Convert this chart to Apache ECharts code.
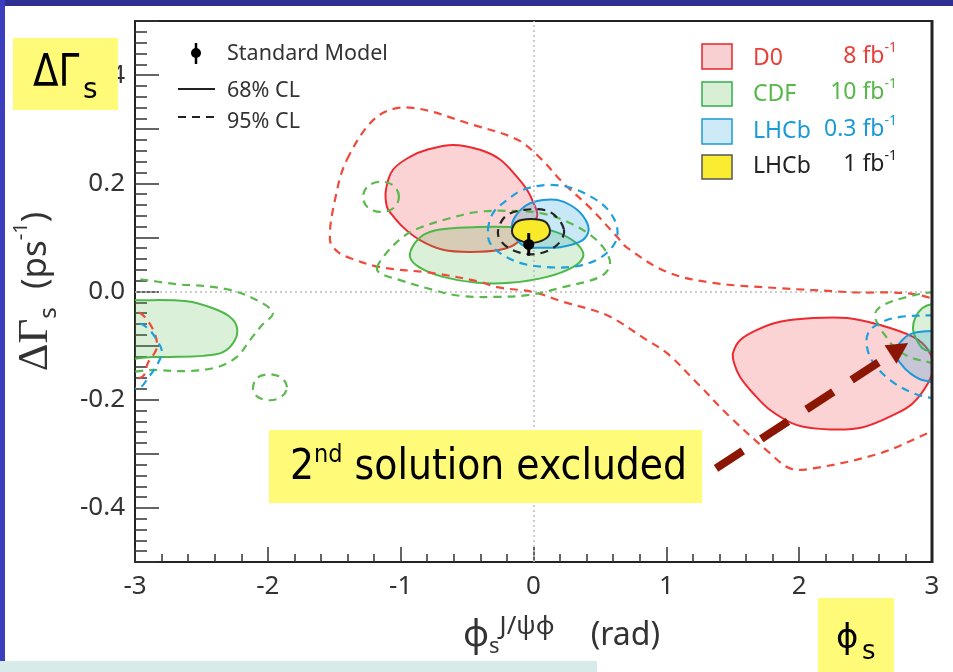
<!DOCTYPE html>
<html><head><meta charset="utf-8">
<script src="https://cdn.jsdelivr.net/npm/echarts@6/dist/echarts.min.js"></script>
<style>html,body{margin:0;padding:0;background:#fff;overflow:hidden}#c{width:953px;height:672px}</style>
</head><body><div id="c"></div>
<script>
// ---- axis settings ----
const xRange = [-3, 3];
const yRange = [-0.5, 0.5];
// ---- Standard Model point: [phi_s, dGamma_s, error] ----
const smPoint = [[-0.036, 0.087, 0.021]];
// ---- contour data [phi_s (rad), dGamma_s (ps^-1)] ----
const d0_95_main = [[-1.404,0.244],[-1.178,0.323],[-0.930,0.340],[-0.456,0.308],[-0.124,0.281],[0.049,0.247],[0.222,0.201],[0.425,0.155],[0.629,0.101],[0.704,0.081],[1.005,0.036],[1.352,0.016],[1.856,0.006],[2.361,-0.001],[2.986,-0.012],[3.212,-0.071],[3.212,-0.238],[2.986,-0.260],[2.609,-0.299],[2.105,-0.327],[1.931,-0.327],[1.781,-0.299],[1.480,-0.232],[1.231,-0.169],[1.005,-0.114],[0.855,-0.090],[0.553,-0.044],[0.222,-0.019],[-0.004,-0.001],[-0.275,0.008],[-0.403,0.018],[-0.757,0.034],[-1.156,0.045],[-1.382,0.062],[-1.472,0.073],[-1.532,0.095],[-1.494,0.170]];
const d0_95_left = [[-3.264,-0.025],[-2.978,-0.038],[-2.873,-0.066],[-2.835,-0.103],[-2.903,-0.132],[-2.948,-0.158],[-3.264,-0.173]];
const d0_68_main = [[-1.103,0.156],[-1.111,0.188],[-1.058,0.225],[-0.930,0.249],[-0.802,0.262],[-0.606,0.271],[-0.403,0.262],[-0.252,0.244],[-0.124,0.212],[-0.049,0.188],[-0.004,0.166],[0.026,0.138],[-0.124,0.090],[-0.252,0.077],[-0.478,0.073],[-0.681,0.077],[-0.855,0.095],[-0.983,0.119],[-1.066,0.142]];
const d0_68_right = [[1.502,-0.114],[1.555,-0.090],[1.683,-0.071],[1.856,-0.056],[2.105,-0.049],[2.361,-0.049],[2.609,-0.062],[2.858,-0.084],[2.971,-0.108],[3.010,-0.140],[2.971,-0.169],[2.858,-0.206],[2.737,-0.225],[2.481,-0.251],[2.233,-0.255],[1.984,-0.247],[1.781,-0.219],[1.653,-0.188],[1.555,-0.158],[1.510,-0.132]];
const cdf_68_main = [[-0.930,0.064],[-0.892,0.090],[-0.802,0.108],[-0.651,0.116],[-0.425,0.119],[-0.177,0.119],[0.102,0.114],[0.252,0.101],[0.350,0.082],[0.373,0.064],[0.297,0.045],[0.102,0.027],[-0.177,0.016],[-0.425,0.016],[-0.681,0.027],[-0.855,0.044]];
const cdf_68_left = [[-3.264,-0.016],[-2.978,-0.016],[-2.609,-0.018],[-2.413,-0.031],[-2.285,-0.047],[-2.233,-0.066],[-2.248,-0.090],[-2.338,-0.112],[-2.489,-0.119],[-2.737,-0.121],[-2.865,-0.121],[-3.264,-0.121]];
const cdf_68_right = [[3.212,-0.016],[3.001,-0.023],[2.926,-0.031],[2.873,-0.049],[2.858,-0.071],[2.895,-0.094],[2.948,-0.108],[3.212,-0.112]];
const cdf_95_main = [[-1.178,0.044],[-1.118,0.068],[-0.983,0.101],[-0.855,0.118],[-0.651,0.134],[-0.425,0.147],[-0.177,0.149],[0.072,0.144],[0.252,0.129],[0.425,0.105],[0.538,0.077],[0.576,0.049],[0.501,0.027],[0.222,0.008],[-0.026,-0.006],[-0.275,-0.010],[-0.553,-0.008],[-0.757,0.003],[-1.005,0.021],[-1.156,0.034]];
const cdf_95_isl1 = [[-1.013,0.175],[-1.050,0.195],[-1.148,0.203],[-1.246,0.195],[-1.284,0.175],[-1.246,0.155],[-1.148,0.147],[-1.050,0.155]];
const cdf_95_left = [[-3.264,0.012],[-2.609,0.012],[-2.285,0.003],[-2.060,-0.019],[-1.962,-0.040],[-2.044,-0.062],[-2.135,-0.090],[-2.233,-0.121],[-2.383,-0.140],[-2.609,-0.147],[-2.850,-0.145],[-3.264,-0.142]];
const cdf_95_isl2 = [[-1.856,-0.177],[-1.894,-0.160],[-1.984,-0.153],[-2.082,-0.160],[-2.112,-0.181],[-2.075,-0.195],[-1.984,-0.201],[-1.894,-0.194]];
const cdf_95_right = [[3.212,0.003],[3.001,-0.001],[2.813,-0.010],[2.632,-0.025],[2.572,-0.040],[2.587,-0.058],[2.662,-0.086],[2.737,-0.108],[2.911,-0.127],[3.212,-0.131]];
const lhcb03_68_main = [[-0.162,0.118],[-0.139,0.138],[-0.049,0.160],[0.072,0.169],[0.200,0.168],[0.328,0.151],[0.403,0.127],[0.410,0.108],[0.350,0.092],[0.200,0.082],[0.049,0.081],[-0.049,0.082],[-0.124,0.095]];
const lhcb03_68_right = [[3.212,-0.075],[3.001,-0.073],[2.858,-0.077],[2.775,-0.090],[2.722,-0.112],[2.760,-0.132],[2.835,-0.151],[2.933,-0.164],[3.212,-0.168]];
const lhcb03_95_main = [[-0.343,0.114],[-0.305,0.145],[-0.200,0.169],[-0.079,0.188],[0.102,0.197],[0.275,0.192],[0.448,0.173],[0.561,0.151],[0.629,0.119],[0.614,0.090],[0.501,0.062],[0.328,0.047],[0.102,0.045],[-0.102,0.053],[-0.252,0.071],[-0.328,0.090]];
const lhcb03_95_right = [[3.212,-0.044],[3.001,-0.044],[2.760,-0.047],[2.609,-0.058],[2.519,-0.077],[2.511,-0.103],[2.557,-0.131],[2.685,-0.164],[2.858,-0.188],[3.001,-0.197],[3.212,-0.201]];
const lhcb03_95_left = [[-3.264,-0.053],[-2.978,-0.058],[-2.903,-0.068],[-2.835,-0.090],[-2.797,-0.112],[-2.835,-0.136],[-2.903,-0.160],[-2.963,-0.177],[-3.264,-0.182]];
const lhcb1_68 = [[0.124,0.112],[0.087,0.097],[-0.019,0.090],[-0.124,0.097],[-0.162,0.112],[-0.124,0.129],[-0.019,0.134],[0.087,0.129]];
const lhcb1_95 = [[0.230,0.114],[0.177,0.086],[0.011,0.069],[-0.177,0.079],[-0.267,0.105],[-0.215,0.138],[-0.064,0.151],[0.124,0.147]];
// ---- annotation arrow: [tail, tip] in data coords ----
const arrowPts = [[[1.374, -0.327, 2.820, -0.0954]]];

const COL = {
  red:'#ec2b31', redDash:'#ef4a3c', pink:'rgba(238,70,80,0.24)',
  green:'#4db848', greenDash:'#5cb94e', lgreen:'rgba(80,185,70,0.21)',
  blue:'#1b9ad7', blueDash:'#1ea0dc', lblue:'rgba(30,160,220,0.24)',
  yellow:'#f8ea2a'
};

function contour(pts, fill, stroke, dashed, z) {
  return {
    type:'custom', z:z, silent:true, clip:true,
    data:[pts[0]],
    renderItem:function(params, api){
      const cs = params.coordSys;
      const points = pts.map(p => api.coord(p));
      return {
        type:'group',
        clipPath:{type:'rect', shape:{x:cs.x, y:cs.y, width:cs.width, height:cs.height}},
        children:[{
          type:'polygon',
          shape:{points:points, smooth:0.35},
          style:{fill: fill || 'none', stroke: stroke, lineWidth: dashed ? 2.2 : 2, lineDash: dashed ? [8,6] : null}
        }]
      };
    }
  };
}

const series = [];
// dotted zero lines
series.push({type:'line', z:1, data:[], symbol:'none', silent:true,
  markLine:{silent:true, symbol:'none', label:{show:false},
    lineStyle:{type:[2,3], color:'#bdbdbd', width:1.5},
    data:[{xAxis:0},{yAxis:0}]}});
[d0_68_main, d0_68_right].forEach(p => series.push(contour(p, COL.pink, COL.red, false, 2)));
[cdf_68_main, cdf_68_left, cdf_68_right].forEach(p => series.push(contour(p, COL.lgreen, COL.green, false, 3)));
[lhcb03_68_main, lhcb03_68_right].forEach(p => series.push(contour(p, COL.lblue, COL.blue, false, 4)));
[d0_95_main, d0_95_left].forEach(p => series.push(contour(p, null, COL.redDash, true, 5)));
[cdf_95_main, cdf_95_isl1, cdf_95_left, cdf_95_isl2, cdf_95_right].forEach(p => series.push(contour(p, null, COL.greenDash, true, 6)));
[lhcb03_95_main, lhcb03_95_right, lhcb03_95_left].forEach(p => series.push(contour(p, null, COL.blueDash, true, 7)));
series.push(contour(lhcb1_68, COL.yellow, '#222', false, 8));
series.push(contour(lhcb1_95, null, '#222', true, 9));
// Standard Model point with error bar
series.push({type:'custom', z:10, silent:true, data:smPoint,
  renderItem:function(params, api){
    const x = api.value(0), y = api.value(1), e = api.value(2);
    const c = api.coord([x,y]), t = api.coord([x,y+e]), b = api.coord([x,y-e]);
    return {type:'group', children:[
      {type:'line', shape:{x1:c[0], y1:t[1], x2:c[0], y2:b[1]}, style:{stroke:'#000', lineWidth:3}},
      {type:'circle', shape:{cx:c[0], cy:c[1], r:5.5}, style:{fill:'#000'}}
    ]};
  }});
// annotation arrow
series.push({type:'custom', z:20, silent:true, data:arrowPts[0],
  renderItem:function(params, api){
    const a = api.coord([api.value(0), api.value(1)]);
    const b = api.coord([api.value(2), api.value(3)]);
    const dx = b[0]-a[0], dy = b[1]-a[1], L = Math.sqrt(dx*dx+dy*dy);
    const ux = dx/L, uy = dy/L, px = -uy, py = ux;
    const hl = 21, hw = 11;
    const bx = b[0]-ux*hl, by = b[1]-uy*hl;
    return {type:'group', children:[
      {type:'line', shape:{x1:a[0], y1:a[1], x2:bx, y2:by}, style:{stroke:'#8c1604', lineWidth:8, lineDash:[32,22], lineCap:'butt'}},
      {type:'polygon', shape:{points:[[b[0],b[1]],[bx+px*hw, by+py*hw],[bx-px*hw, by-py*hw]]}, style:{fill:'#8c1604'}}
    ]};
  }});

const FONT = 'Noto Sans';
const YEL = '#fffb78';
function supText(x, y, main, color) {
  return {type:'text', z:50, x:x, y:y, style:{text:'{m|' + main + '}{s|-1}', align:'right', verticalAlign:'middle',
    rich:{m:{fontSize:23, lineHeight:30, fontFamily:FONT, fill:color}, s:{fontSize:14, lineHeight:14, verticalAlign:'top', fontFamily:FONT, fill:color}}}};
}
const chart = echarts.init(document.getElementById('c'), null, {renderer:'canvas'});
chart.setOption({
  animation:false,
  backgroundColor:'#ffffff',
  textStyle:{fontFamily:FONT},
  grid:{left:135, right:21, top:21, bottom:110, show:true, borderColor:'#222', borderWidth:2, backgroundColor:'transparent'},
  xAxis:{type:'value', min:xRange[0], max:xRange[1], interval:1,
    axisLine:{onZero:false, lineStyle:{color:'#222', width:2}},
    axisTick:{inside:true, length:15, lineStyle:{color:'#333', width:1.5}},
    minorTick:{show:true, splitNumber:5, length:8, lineStyle:{color:'#333', width:1.5}},
    splitLine:{show:false},
    axisLabel:{fontSize:26, color:'#333', margin:12, fontFamily:FONT},
    name:'{p|ϕ}{sub|s}{sup|J/ψϕ}{t|(rad)}', nameLocation:'middle', nameGap:52,
    nameTextStyle:{color:'#333', fontFamily:FONT, fontSize:32, padding:[0,0,0,56], rich:{
      p:{fontSize:36, lineHeight:44, fontFamily:FONT, color:'#333'},
      t:{fontSize:32, lineHeight:44, fontFamily:FONT, color:'#333', padding:[0,0,0,36]},
      sub:{fontSize:22, lineHeight:22, verticalAlign:'bottom', fontFamily:FONT, color:'#333'},
      sup:{fontSize:26, lineHeight:25, verticalAlign:'top', fontFamily:FONT, color:'#333'}
    }}
  },
  yAxis:{type:'value', min:yRange[0], max:yRange[1], interval:0.1,
    axisLine:{onZero:false, lineStyle:{color:'#222', width:2}},
    axisTick:{inside:true, length:24, lineStyle:{color:'#333', width:1.5}},
    minorTick:{show:true, splitNumber:5, length:12, lineStyle:{color:'#333', width:1.5}},
    splitLine:{show:false},
    axisLabel:{fontSize:26, color:'#333', margin:10, fontFamily:FONT,
      formatter:function(v){ const k = Math.round(v*10); if (k % 2 !== 0) return ''; return (k/10).toFixed(1); }},
    name:'{g|ΔΓ}{sub|s}{t|  (ps}{sup|-1}{t|)}', nameLocation:'middle', nameRotate:90, nameGap:74,
    nameTextStyle:{color:'#333', fontFamily:FONT, fontSize:34, rich:{
      g:{fontSize:43, lineHeight:50, fontFamily:'Liberation Serif', color:'#333'},
      t:{fontSize:35, lineHeight:50, fontFamily:FONT, color:'#333'},
      sub:{fontSize:24, lineHeight:24, verticalAlign:'bottom', fontFamily:FONT, color:'#333'},
      sup:{fontSize:20, lineHeight:20, verticalAlign:'top', fontFamily:FONT, color:'#333'}
    }}
  },
  series:series,
  graphic:[
    // slide frame pieces
    {type:'rect', z:100, shape:{x:0,y:0,width:953,height:6}, style:{fill:'#2e3192'}},
    {type:'rect', z:100, shape:{x:0,y:0,width:5,height:661}, style:{fill:'#3b3fbd'}},
    {type:'rect', z:100, shape:{x:0,y:661,width:597,height:11}, style:{fill:'#d7ebeb'}},
    {type:'line', z:60, shape:{x1:932,y1:20,x2:932,y2:563}, style:{stroke:'#222', lineWidth:3}},
    // top-left legend
    {type:'line', z:50, shape:{x1:196,y1:43,x2:196,y2:64}, style:{stroke:'#000', lineWidth:2.5}},
    {type:'circle', z:50, shape:{cx:196,cy:53,r:5}, style:{fill:'#000'}},
    {type:'text', z:50, x:227, y:54, style:{text:'Standard Model', fontSize:21.5, fontFamily:FONT, fill:'#333', verticalAlign:'middle'}},
    {type:'line', z:50, shape:{x1:178,y1:89,x2:215,y2:89}, style:{stroke:'#222', lineWidth:2}},
    {type:'text', z:50, x:227, y:91, style:{text:'68% CL', fontSize:21.5, fontFamily:FONT, fill:'#333', verticalAlign:'middle'}},
    {type:'line', z:50, shape:{x1:178,y1:117,x2:215,y2:117}, style:{stroke:'#222', lineWidth:2, lineDash:[8,6]}},
    {type:'text', z:50, x:227, y:122, style:{text:'95% CL', fontSize:21.5, fontFamily:FONT, fill:'#333', verticalAlign:'middle'}},
    // top-right legend
    {type:'rect', z:50, shape:{x:702,y:44,width:30,height:25}, style:{fill:'#f9d0d2', stroke:'#e8262d', lineWidth:1.5}},
    {type:'rect', z:50, shape:{x:702,y:82,width:30,height:24}, style:{fill:'#d8efd5', stroke:'#2fb04b', lineWidth:1.5}},
    {type:'rect', z:50, shape:{x:702,y:119,width:30,height:25}, style:{fill:'#cdeaf6', stroke:'#1c9ad6', lineWidth:1.5}},
    {type:'rect', z:50, shape:{x:702,y:155,width:30,height:24}, style:{fill:'#f9ec31', stroke:'#555', lineWidth:1.5}},
    {type:'text', z:50, x:753, y:58, style:{text:'D0', fontSize:23, fontFamily:FONT, fill:'#e8403a', verticalAlign:'middle'}},
    {type:'text', z:50, x:753, y:94, style:{text:'CDF', fontSize:23, fontFamily:FONT, fill:'#55b847', verticalAlign:'middle'}},
    {type:'text', z:50, x:753, y:131, style:{text:'LHCb', fontSize:23, fontFamily:FONT, fill:'#1a9ad6', verticalAlign:'middle'}},
    {type:'text', z:50, x:753, y:166, style:{text:'LHCb', fontSize:23, fontFamily:FONT, fill:'#222', verticalAlign:'middle'}},
    supText(897, 56, '8 fb', '#e8403a'),
    supText(897, 92, '10 fb', '#55b847'),
    supText(897, 129, '0.3 fb', '#1a9ad6'),
    supText(897, 164, '1 fb', '#222'),
    // yellow annotation boxes
    {type:'rect', z:100, shape:{x:13,y:38,width:105,height:72}, style:{fill:YEL}},
    {type:'text', z:101, x:33, y:75, scaleX:0.85, style:{text:'ΔΓ', fontSize:44, fontFamily:'DejaVu Sans', fill:'#000', verticalAlign:'middle'}},
    {type:'text', z:101, x:83, y:91, style:{text:'s', fontSize:28, fontFamily:'DejaVu Sans', fill:'#000', verticalAlign:'middle'}},
    {type:'rect', z:100, shape:{x:269,y:430,width:433,height:73}, style:{fill:YEL}},
    {type:'text', z:101, x:290, y:468, scaleX:0.9, style:{text:'{a|2}{s|nd}{a| solution excluded}', verticalAlign:'middle',
      rich:{a:{fontSize:42, lineHeight:50, fontFamily:'DejaVu Sans', fill:'#000'}, s:{fontSize:25, lineHeight:25, verticalAlign:'top', fontFamily:'DejaVu Sans', fill:'#000'}}}},
    {type:'rect', z:100, shape:{x:818,y:598,width:76,height:74}, style:{fill:YEL}},
    {type:'text', z:101, x:836, y:639, style:{text:'ϕ', fontSize:34, fontFamily:'DejaVu Sans', fill:'#000', verticalAlign:'middle'}},
    {type:'text', z:101, x:862, y:652, style:{text:'s', fontSize:26, fontFamily:'DejaVu Sans', fill:'#000', verticalAlign:'middle'}}
  ]
});
</script></body></html>
